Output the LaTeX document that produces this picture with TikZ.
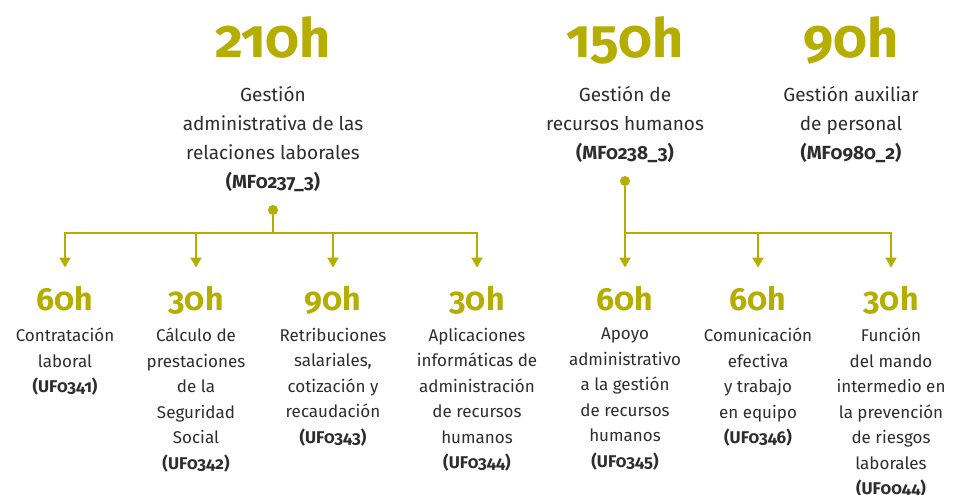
\documentclass[tikz,border=0pt]{standalone}
\usepackage{fontspec}
\setmainfont{Fira Sans}[Numbers={OldStyle,Proportional}]
\usepackage{tikz}
\usetikzlibrary{positioning,arrows.meta}
\definecolor{oliva}{RGB}{181,173,0}
\definecolor{grisoscuro}{RGB}{45,45,45}
\tikzset{rama/.style={draw=oliva,line width=2pt}}
\tikzset{flecha/.style={rama,-{Triangle[width=11pt,length=10pt]},shorten >=18pt}}
\tikzset{punto/.style={circle,fill=oliva,inner sep=0pt,minimum size=10pt}}
\tikzset{horasgrandes/.style={text=oliva,font=\fontsize{54}{54}\selectfont\bfseries,inner sep=0pt,anchor=base}}
\tikzset{horas/.style={text=oliva,font=\fontsize{32}{32}\selectfont\bfseries,inner sep=0pt,anchor=base}}
\tikzset{modulo/.style={text=grisoscuro,align=center,font=\fontsize{19}{29}\selectfont,inner sep=0pt}}
\tikzset{unidad/.style={text=grisoscuro,align=center,font=\fontsize{17}{25.5}\selectfont,inner sep=0pt}}

\begin{document}
\begin{tikzpicture}[x=1pt, y=-1pt]
            \useasboundingbox (0,0) rectangle (953,495);

            % modulos formativos
            \node[horasgrandes] (h0237) at (273,58) {210h};
            \node[horasgrandes] (h0238) at (625,58) {150h};
            \node[horasgrandes] (h0980) at (851,58) {90h};
            \node[modulo, below= 28pt of h0237.base] (mf0237) {Gestión\\administrativa de las\\relaciones laborales\\\textbf{(MF0237\_3)}};
            \node[modulo, below= 28pt of h0238.base] (mf0238) {Gestión de\\recursos humanos\\\textbf{(MF0238\_3)}};
            \node[modulo, below= 28pt of h0980.base] (mf0980) {Gestión auxiliar\\de personal\\\textbf{(MF0980\_2)}};

            % unidades formativas
            \node[horas] (h0341) at (65,310)  {60h};
            \node[horas] (h0342) at (196,310) {30h};
            \node[horas] (h0343) at (333,310) {90h};
            \node[horas] (h0344) at (477,310) {30h};
            \node[horas] (h0345) at (625,310) {60h};
            \node[horas] (h0346) at (758,310) {60h};
            \node[horas] (h0044) at (891,310) {30h};
            \node[unidad, below= 18pt of h0341.base] (uf0341) {Contratación\\laboral\\\textbf{(UF0341)}};
            \node[unidad, below= 18pt of h0342.base] (uf0342) {Cálculo de\\prestaciones\\de la\\Seguridad\\Social\\\textbf{(UF0342)}};
            \node[unidad, below= 18pt of h0343.base] (uf0343) {Retribuciones\\salariales,\\cotización y\\recaudación\\\textbf{(UF0343)}};
            \node[unidad, below= 18pt of h0344.base] (uf0344) {Aplicaciones\\informáticas de\\administración\\de recursos\\humanos\\\textbf{(UF0344)}};
            \node[unidad, below= 18pt of h0345.base] (uf0345) {Apoyo\\administrativo\\a la gestión\\de recursos\\humanos\\\textbf{(UF0345)}};
            \node[unidad, below= 18pt of h0346.base] (uf0346) {Comunicación\\efectiva\\y trabajo\\en equipo\\\textbf{(UF0346)}};
            \node[unidad, below= 18pt of h0044.base] (uf0044) {Función\\del mando\\intermedio en\\la prevención\\de riesgos\\laborales\\\textbf{(UF0044)}};

            % ramas
            \node[punto] (p0237) at (273,210) {};
            \node[punto] (p0238) at (625,181) {};
            \coordinate (c0237) at (273,233);
            \coordinate (c0238) at (625,233);

            \draw[rama] (p0237) -- (c0237);
            \draw[flecha] (c0237) -| (h0341);
            \draw[flecha] (c0237) -| (h0342);
            \draw[flecha] (c0237) -| (h0343);
            \draw[flecha] (c0237) -| (h0344);
            \draw[flecha] (p0238) -- (h0345);
            \draw[flecha] (c0238) -| (h0346);
            \draw[flecha] (c0238) -| (h0044);
        \end{tikzpicture}
\end{document}
